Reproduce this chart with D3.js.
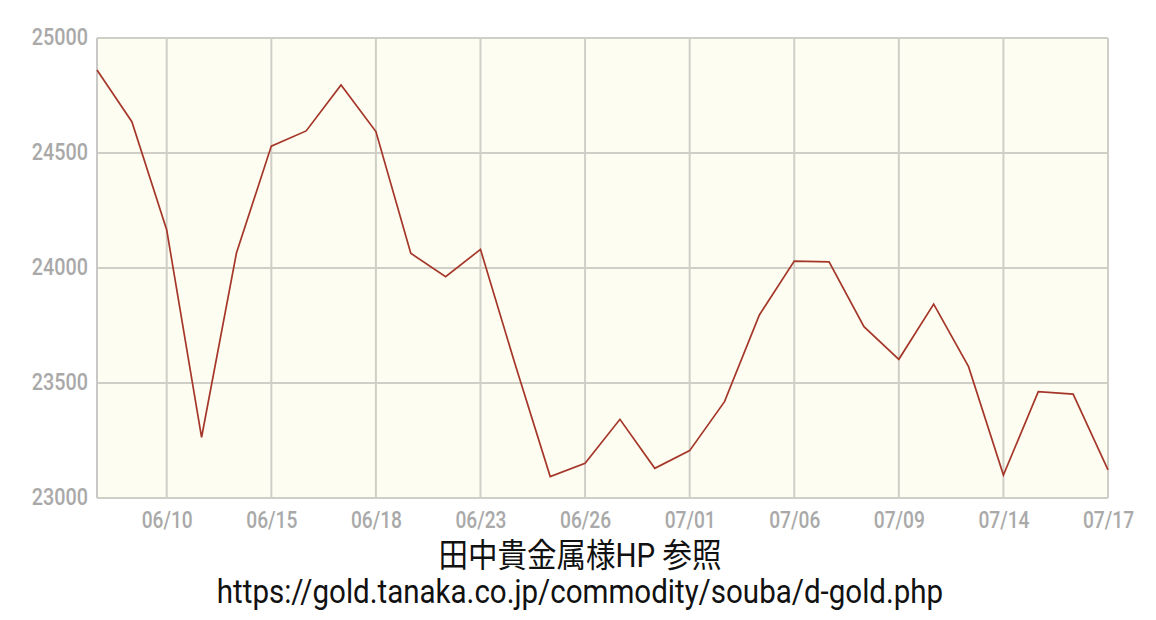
<!DOCTYPE html>
<html>
<head>
<meta charset="utf-8">
<script src="https://cdn.jsdelivr.net/npm/d3@7"></script>
<style>
  html, body { margin: 0; padding: 0; background: #ffffff; }
  svg { display: block; }
</style>
</head>
<body>
<svg id="chart" width="1156" height="620"></svg>
<script>
const dates = ["06/08","06/09","06/10","06/11","06/12","06/15","06/16","06/17","06/18","06/19",
  "06/22","06/23","06/24","06/25","06/26","06/29","06/30","07/01","07/02","07/03",
  "07/06","07/07","07/08","07/09","07/10","07/13","07/14","07/15","07/16","07/17"];
const prices = [24861,24636,24165,23264,24065,24530,24596,24796,24593,24064,
  23962,24081,23578,23093,23151,23342,23129,23206,23419,23796,
  24030,24027,23745,23603,23843,23571,23100,23462,23452,23122];
const xTickLabels = ["06/10","06/15","06/18","06/23","06/26","07/01","07/06","07/09","07/14","07/17"];
const yTicks = [23000,23500,24000,24500,25000];
const captionLines = ["田中貴金属様HP 参照","https://gold.tanaka.co.jp/commodity/souba/d-gold.php"];

(function () {
const svg = d3.select("#chart");
const pL = 97, pR = 1108, pT = 38, pB = 498;
const sx = 0.86;

const x = d3.scaleLinear().domain([0, dates.length - 1]).range([pL, pR]);
const y = d3.scaleLinear().domain([23000, 25000]).range([pB, pT]);

svg.append("rect").attr("x", pL).attr("y", pT)
  .attr("width", pR - pL).attr("height", pB - pT)
  .attr("fill", "#fdfdf1");

const tickIdx = xTickLabels.map(l => dates.indexOf(l));

svg.append("g").selectAll("line").data(yTicks).join("line")
  .attr("x1", pL).attr("x2", pR)
  .attr("y1", d => y(d)).attr("y2", d => y(d))
  .attr("stroke", "#cfcfc8").attr("stroke-width", 2);

svg.append("g").selectAll("line").data(tickIdx).join("line")
  .attr("x1", d => x(d)).attr("x2", d => x(d))
  .attr("y1", pT).attr("y2", pB)
  .attr("stroke", "#cfcfc8").attr("stroke-width", 2);

svg.append("line").attr("x1", pL).attr("x2", pL).attr("y1", pT).attr("y2", pB)
  .attr("stroke", "#c8c8c8").attr("stroke-width", 2);

const yAxis = d3.axisLeft(y).tickValues(yTicks).tickSize(0).tickPadding(9).tickFormat(d3.format("d"));
const gy = svg.append("g").attr("transform", `translate(${pL},0)`).call(yAxis);
gy.select(".domain").remove();
gy.selectAll("text")
  .attr("x", -9 / sx).attr("dy", "0.3em")
  .attr("transform", `scale(${sx},1)`)
  .attr("fill", "#a9a9a9").attr("font-size", 23).attr("font-weight", 500)
  .attr("font-family", "Roboto, 'Noto Sans', sans-serif");

const xAxis = d3.axisBottom(x).tickValues(tickIdx).tickSize(0).tickPadding(14)
  .tickFormat(d => dates[d]);
const gx = svg.append("g").attr("transform", `translate(0,${pB})`).call(xAxis);
gx.select(".domain").remove();
gx.selectAll("text")
  .attr("transform", `scale(${sx * 0.97},1)`)
  .attr("fill", "#a9a9a9").attr("font-size", 23).attr("font-weight", 500)
  .attr("font-family", "Roboto, 'Noto Sans', sans-serif");

const line = d3.line().x((d, i) => x(i)).y(d => y(d));
svg.append("path").datum(prices)
  .attr("d", line).attr("fill", "none")
  .attr("stroke", "#a5372a").attr("stroke-width", 1.7)
  .attr("stroke-linejoin", "miter");

svg.append("g").selectAll("text").data(captionLines).join("text")
  .attr("transform", (d, i) => `translate(580,${567 + i * 36}) scale(0.895,1)`)
  .attr("text-anchor", "middle")
  .attr("font-size", 33)
  .attr("font-family", "Roboto, 'Noto Sans CJK JP', sans-serif")
  .attr("fill", "#111")
  .text(d => d);
})();
</script>
</body>
</html>
